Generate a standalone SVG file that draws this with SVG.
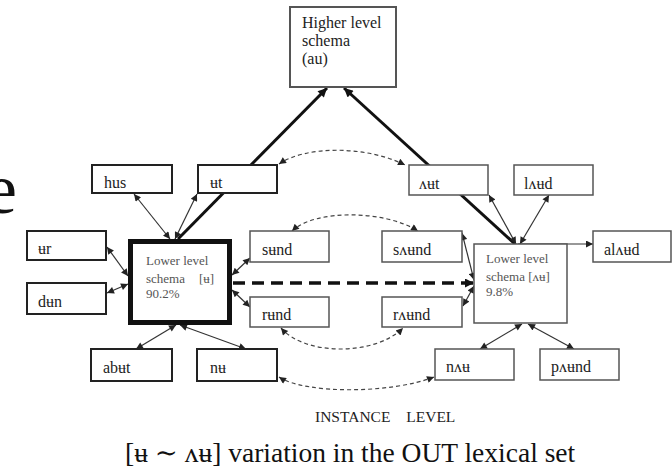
<svg xmlns="http://www.w3.org/2000/svg" width="672" height="470" viewBox="0 0 672 470">
<style>
text{font-family:"Liberation Serif","DejaVu Serif",serif;fill:#222}
.lbl{font-size:16px}
.sch{font-size:13px;fill:#555}
.bx{fill:#fff;stroke:#222;stroke-width:2}
.bg{fill:#fff;stroke:#555;stroke-width:1.5}
.thin{fill:none;stroke:#333;stroke-width:1.2;marker-start:url(#ah);marker-end:url(#ah)}
.thick{fill:none;stroke:#111;stroke-width:3}
.dot{fill:none;stroke:#444;stroke-width:1.2;stroke-dasharray:4 3;marker-start:url(#ah);marker-end:url(#ah)}
</style>
<defs>
<marker id="ah" viewBox="0 0 10 10" refX="10" refY="5" markerWidth="9" markerHeight="7" orient="auto-start-reverse" markerUnits="userSpaceOnUse"><path d="M0,0 L10,5 L0,10 z" fill="#222"/></marker>
<marker id="ahb" viewBox="0 0 10 10" refX="10" refY="5" markerWidth="11" markerHeight="9" orient="auto" markerUnits="userSpaceOnUse"><path d="M0,0 L10,5 L0,10 z" fill="#111"/></marker>
</defs>
<text x="-15" y="213" style="font-size:72px;fill:#111">e</text>
<g id="connectors">
<line class="thick" x1="178" y1="239" x2="327" y2="88" marker-end="url(#ahb)"/>
<line class="thick" x1="515" y1="244" x2="344" y2="88" marker-end="url(#ahb)"/>
<line class="thin" x1="134" y1="194" x2="170" y2="239"/>
<line class="thin" x1="197" y1="194" x2="175" y2="239"/>
<line class="thin" x1="107" y1="247" x2="128" y2="276"/>
<line class="thin" x1="107" y1="293" x2="128" y2="284"/>
<line class="thin" x1="232" y1="275" x2="250" y2="258"/>
<line class="thin" x1="232" y1="290" x2="250" y2="307"/>
<line class="thin" x1="176" y1="325" x2="136" y2="349"/>
<line class="thin" x1="180" y1="325" x2="246" y2="349"/>
<line class="thin" x1="489" y1="195" x2="516" y2="244"/>
<line class="thin" x1="549" y1="195" x2="520" y2="244"/>
<line fill="none" stroke="#333" stroke-width="1.2" x1="518" y1="244" x2="593" y2="244" marker-end="url(#ah)"/>
<line class="thin" x1="462" y1="233" x2="474" y2="280"/>
<line class="thin" x1="463" y1="306" x2="474" y2="286"/>
<line class="thin" x1="480" y1="349" x2="522" y2="324"/>
<line class="thin" x1="528" y1="324" x2="574" y2="349"/>
<line fill="none" stroke="#111" stroke-width="3.5" stroke-dasharray="12 7" x1="233" y1="283" x2="474" y2="283" marker-end="url(#ahb)"/>
<path class="dot" d="M279,164 C305,146 365,145 405,165"/>
<path class="dot" d="M292,231 C315,209 385,210 418,231"/>
<path class="dot" d="M281,328 C305,356 375,356 403,328"/>
<path class="dot" d="M279,377 C305,394 390,394 434,377"/>
</g>
<g id="higher"><rect class="bg" x="290" y="7" width="106" height="80" style="stroke-width:2"/>
<text class="lbl" x="302" y="28">Higher level</text><text class="lbl" x="302" y="46">schema</text><text class="lbl" x="302" y="64">(au)</text></g>
<g id="lower-u"><rect x="130.5" y="241.5" width="99" height="81" fill="#fff" stroke="#111" stroke-width="5"/>
<text class="sch" x="146" y="265">Lower level</text><text class="sch" x="146" y="283">schema</text><text class="sch" x="199" y="283">[ʉ]</text><text class="sch" x="146" y="298">90.2%</text></g>
<g id="lower-au"><rect class="bg" x="474" y="244" width="93" height="79"/>
<text class="sch" x="486" y="263">Lower level</text><text class="sch" x="486" y="281">schema [ʌʉ]</text><text class="sch" x="486" y="296">9.8%</text></g>
<g id="hus"><rect class="bx" x="92" y="165" width="80" height="28"/><text class="lbl" x="104" y="188">hus</text></g>
<g id="ut"><rect class="bx" x="198" y="165" width="79" height="28"/><text class="lbl" x="210" y="188">ʉt</text></g>
<g id="aut"><rect class="bg" x="409" y="165" width="79" height="30"/><text class="lbl" x="419" y="189">ʌʉt</text></g>
<g id="laud"><rect class="bg" x="514" y="165" width="79" height="30"/><text class="lbl" x="524" y="189">lʌʉd</text></g>
<g id="ur"><rect class="bx" x="27" y="231" width="79" height="29"/><text class="lbl" x="38" y="254">ʉr</text></g>
<g id="dun"><rect class="bx" x="27" y="283" width="79" height="31"/><text class="lbl" x="38" y="307">dʉn</text></g>
<g id="sund"><rect class="bg" x="250" y="231" width="79" height="31"/><text class="lbl" x="262" y="255">sʉnd</text></g>
<g id="saund"><rect class="bg" x="382" y="231" width="80" height="31"/><text class="lbl" x="393" y="255">sʌʉnd</text></g>
<g id="alaud"><rect class="bg" x="593" y="231" width="78" height="31"/><text class="lbl" x="604" y="255">alʌʉd</text></g>
<g id="rund"><rect class="bg" x="250" y="297" width="79" height="30"/><text class="lbl" x="262" y="320">rʉnd</text></g>
<g id="raund"><rect class="bg" x="382" y="297" width="80" height="30"/><text class="lbl" x="393" y="320">rʌʉnd</text></g>
<g id="abut"><rect class="bx" x="91" y="349" width="81" height="32"/><text class="lbl" x="103" y="373">abʉt</text></g>
<g id="nu"><rect class="bx" x="197" y="349" width="80" height="32"/><text class="lbl" x="210" y="373">nʉ</text></g>
<g id="nau"><rect class="bg" x="435" y="349" width="79" height="31"/><text class="lbl" x="446" y="372">nʌʉ</text></g>
<g id="paund"><rect class="bg" x="540" y="349" width="79" height="31"/><text class="lbl" x="551" y="372">pʌʉnd</text></g>
<text x="315" y="422" style="font-size:15.5px;word-spacing:12px">INSTANCE LEVEL</text>
<text x="125" y="462" style="font-size:27.5px;fill:#111">[ʉ ∼ ʌʉ] variation in the OUT lexical set</text>
</svg>
